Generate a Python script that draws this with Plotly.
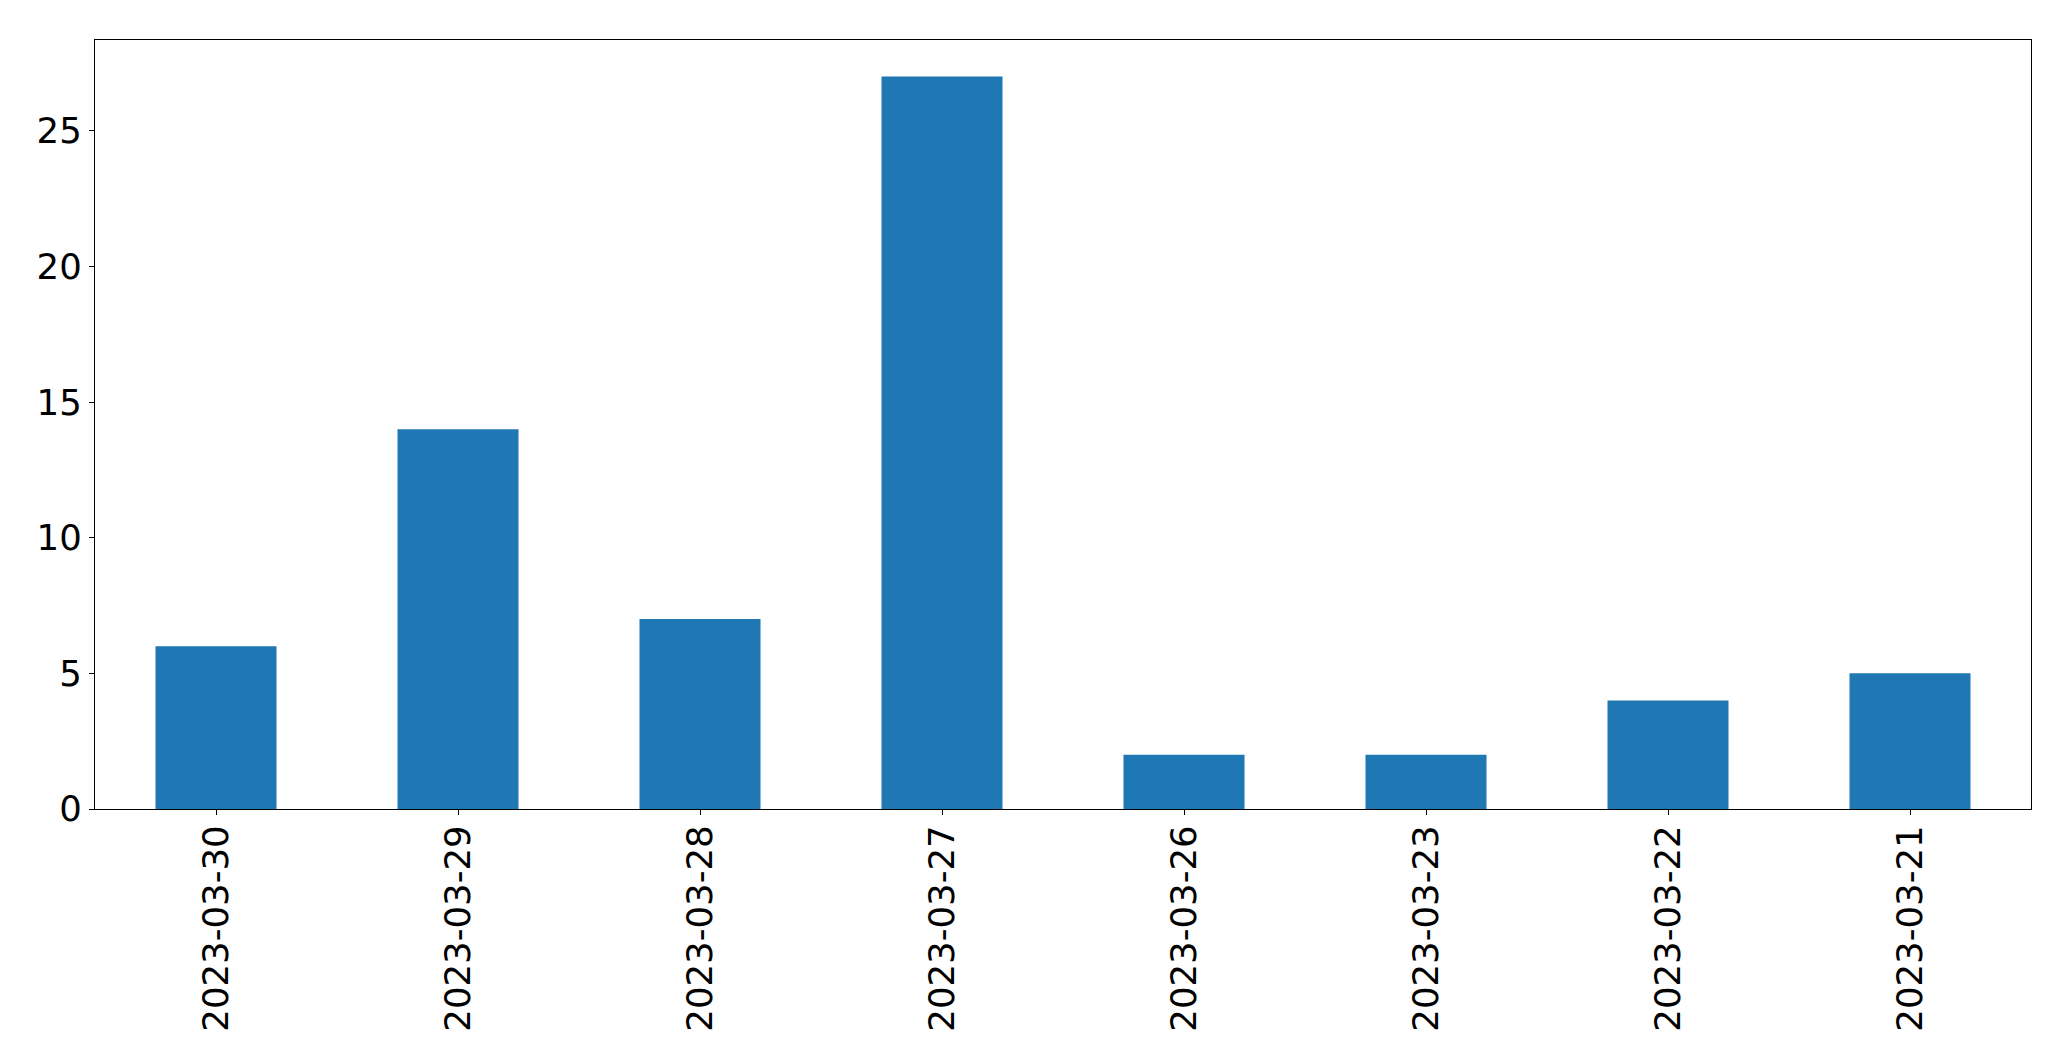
import plotly.graph_objects as go

dates = ["2023-03-30", "2023-03-29", "2023-03-28", "2023-03-27",
         "2023-03-26", "2023-03-23", "2023-03-22", "2023-03-21"]
counts = [6, 14, 7, 27, 2, 2, 4, 5]
y_ticks = [0, 5, 10, 15, 20, 25]

fig = go.Figure(go.Bar(x=dates, y=counts, marker_color="#1f77b4",
                       marker_line_width=0, width=0.5))

font = dict(family="DejaVu Sans", size=35.5, color="black")
fig.update_layout(
    width=2055, height=1045,
    margin=dict(l=86.5, r=31.5, t=31.5, b=244),
    plot_bgcolor="white", paper_bgcolor="white",
    showlegend=False, bargap=0.5,
    font=font,
)
fig.update_xaxes(type="category", range=[-0.5, 7.5], tickangle=-90,
                 showline=True, mirror=True, linecolor="black", linewidth=1.3,
                 ticks="outside", ticklen=5, tickwidth=1.3, tickcolor="black",
                 ticklabelstandoff=-4,
                 showgrid=False, zeroline=False, tickfont=font)
fig.update_yaxes(range=[0, 28.35], tickvals=y_ticks,
                 showline=True, mirror=True, linecolor="black", linewidth=1.3,
                 ticks="outside", ticklen=5, tickwidth=1.3, tickcolor="black",
                 showgrid=False, zeroline=False, tickfont=font)

fig.write_html("out.html")
